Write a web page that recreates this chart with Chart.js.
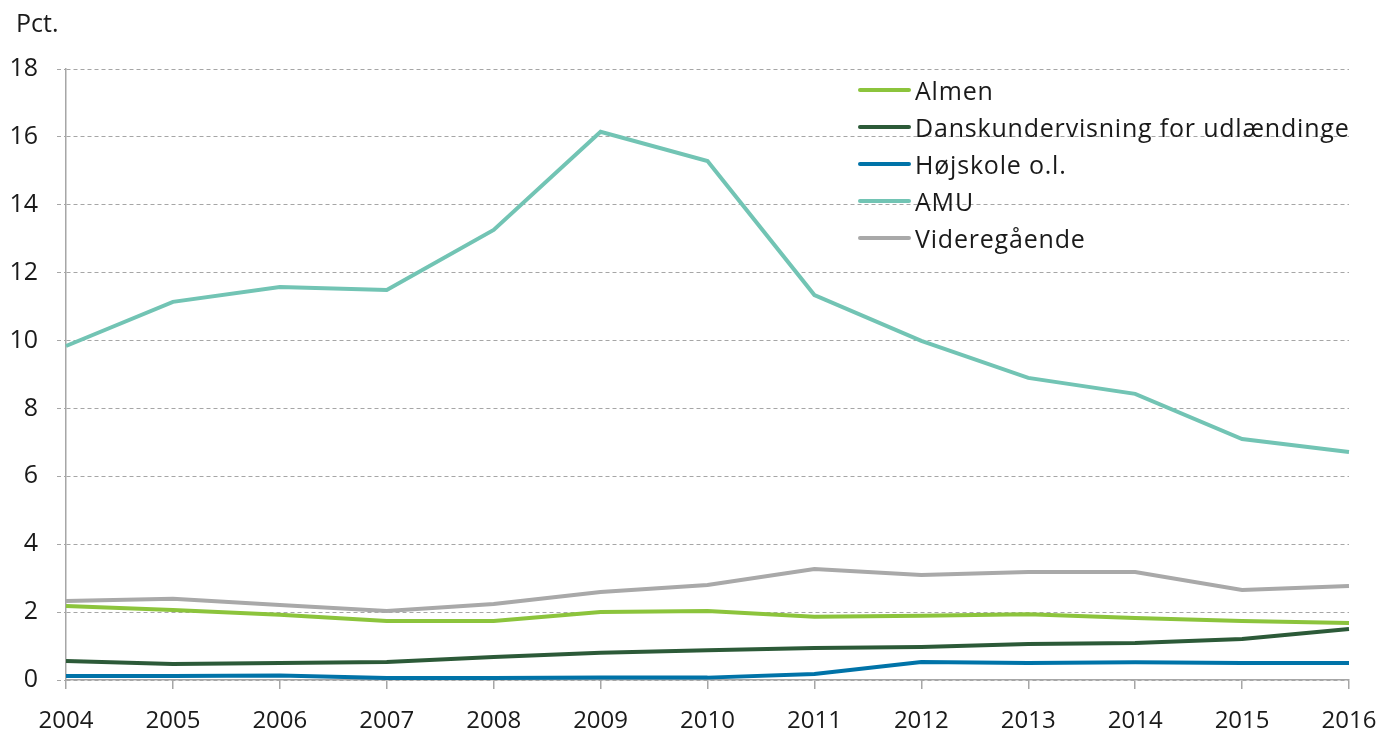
<!DOCTYPE html>
<html lang="da">
<head>
<meta charset="utf-8">
<title>Pct.</title>
<script src="https://cdn.jsdelivr.net/npm/chart.js@4.4.1/dist/chart.umd.min.js"></script>
<style>
  html, body { margin: 0; padding: 0; background: #fff; }
  #wrap { position: relative; width: 1381px; height: 731px; font-family: "Open Sans", sans-serif; color: #1a1a1a; }
  #unit { position: absolute; left: 16px; top: 10px; font-size: 25px; line-height: 1; }
  #legend { position: absolute; left: 858px; top: 71px; }
  #legend .row { display: flex; align-items: center; height: 37px; font-size: 25px; letter-spacing: 0.8px; white-space: nowrap; }
  #legend .swatch { width: 53px; height: 4px; border-radius: 2px; margin-right: 4px; }
</style>
</head>
<body>
<div id="wrap">
  <canvas id="chart"></canvas>
  <div id="unit">Pct.</div>
  <div id="legend"></div>
</div>
<script>
// === Données ===
const years = ["2004", "2005", "2006", "2007", "2008", "2009", "2010", "2011", "2012", "2013", "2014", "2015", "2016"];

const almen = [2.18, 2.06, 1.92, 1.74, 1.74, 2.0, 2.03, 1.86, 1.89, 1.94, 1.83, 1.74, 1.68];
const danskundervisning = [0.56, 0.47, 0.5, 0.53, 0.68, 0.8, 0.88, 0.94, 0.97, 1.06, 1.09, 1.21, 1.5];
const hoejskole = [0.12, 0.12, 0.13, 0.06, 0.06, 0.07, 0.07, 0.18, 0.53, 0.5, 0.52, 0.5, 0.5];
const amu = [9.84, 11.14, 11.58, 11.49, 13.26, 16.15, 15.29, 11.34, 9.99, 8.9, 8.43, 7.1, 6.72];
const videregaaende = [2.33, 2.39, 2.21, 2.03, 2.24, 2.59, 2.8, 3.27, 3.09, 3.18, 3.18, 2.65, 2.77];

const yTicks = [0, 2, 4, 6, 8, 10, 12, 14, 16, 18];

const gridGrey = "#a6a6a6";
const fontFamily = "'Open Sans', sans-serif";

function serie(label, data, color) {
  return {
    label: label,
    data: data,
    borderColor: color,
    backgroundColor: color,
    borderWidth: 4,
    pointRadius: 0,
    tension: 0,
    fill: false
  };
}

const datasets = [
  serie("Almen", almen, "#8cc43c"),
  serie("Danskundervisning for udlændinge", danskundervisning, "#2c5a38"),
  serie("Højskole o.l.", hoejskole, "#0073a8"),
  serie("AMU", amu, "#72c4b4"),
  serie("Videregående", videregaaende, "#a9a9a9")
];

// === Légende HTML (texte réel) ===
const legendBox = document.getElementById("legend");
datasets.forEach(ds => {
  const row = document.createElement("div");
  row.className = "row";
  const sw = document.createElement("span");
  sw.className = "swatch";
  sw.style.background = ds.borderColor;
  const txt = document.createElement("span");
  txt.textContent = ds.label;
  row.appendChild(sw);
  row.appendChild(txt);
  legendBox.appendChild(row);
});

const canvas = document.getElementById("chart");
canvas.width = 1381;
canvas.height = 731;

new Chart(canvas, {
  type: "line",
  data: {
    labels: years,
    datasets: datasets
  },
  options: {
    responsive: false,
    animation: false,
    layout: { padding: { top: 69, right: 32, left: 0, bottom: 0 } },
    plugins: {
      legend: { display: false },
      tooltip: { enabled: false }
    },
    scales: {
      x: {
        offset: false,
        grid: {
          drawOnChartArea: false,
          drawTicks: true,
          tickLength: 9,
          color: gridGrey,
          lineWidth: 1.5
        },
        border: { display: true, color: gridGrey, width: 1.5 },
        ticks: {
          color: "#1a1a1a",
          font: { family: fontFamily, size: 24 },
          padding: 18,
          maxRotation: 0,
          autoSkip: false
        },
        afterFit: scale => {
          scale.height = 51;
          // le padding des libellés ne doit pas rétrécir la zone du graphique
          scale.paddingLeft = 0;
          scale.paddingRight = 0;
        }
      },
      y: {
        min: 0,
        max: 18,
        afterBuildTicks: scale => { scale.ticks = yTicks.map(v => ({ value: v })); },
        grid: {
          color: gridGrey,
          lineWidth: 1,
          tickLength: 9,
          tickColor: gridGrey,
          tickBorderDash: [4, 3]
        },
        border: { display: true, color: gridGrey, width: 1.5, dash: [4, 3] },
        ticks: {
          color: "#1a1a1a",
          font: { family: fontFamily, size: 25 },
          padding: 19
        },
        afterFit: scale => { scale.width = 66; }
      }
    }
  }
});
</script>
</body>
</html>
